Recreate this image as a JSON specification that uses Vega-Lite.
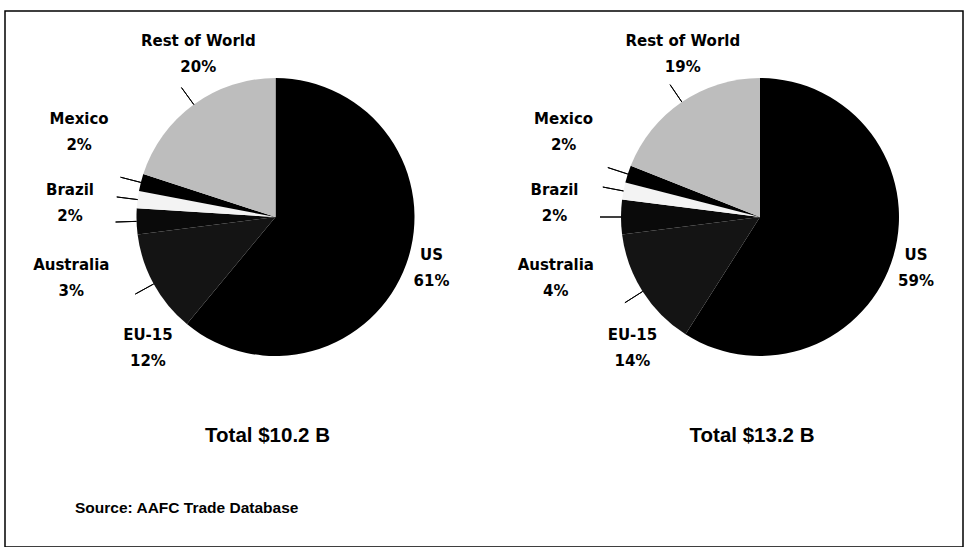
{
  "$schema": "https://vega.github.io/schema/vega-lite/v6.json",
  "width": 958,
  "height": 536,
  "autosize": {"type": "none"},
  "padding": {"left": 5, "top": 11, "right": 5, "bottom": 0},
  "background": "white",
  "title": {
    "text": "Source: AAFC Trade Database",
    "orient": "bottom",
    "anchor": "start",
    "frame": "group",
    "offset": -46,
    "dx": 70,
    "font": "Liberation Sans",
    "fontSize": 15.5,
    "fontWeight": "bold",
    "color": "black"
  },
  "data": {
    "values": [
      {"total": "Total $10.2 B", "region": "US", "share": 0.61, "order": 1},
      {"total": "Total $10.2 B", "region": "EU-15", "share": 0.12, "order": 2},
      {"total": "Total $10.2 B", "region": "Australia", "share": 0.03, "order": 3},
      {"total": "Total $10.2 B", "region": "Brazil", "share": 0.02, "order": 4},
      {"total": "Total $10.2 B", "region": "Mexico", "share": 0.02, "order": 5},
      {"total": "Total $10.2 B", "region": "Rest of World", "share": 0.20, "order": 6},
      {"total": "Total $13.2 B", "region": "US", "share": 0.59, "order": 1},
      {"total": "Total $13.2 B", "region": "EU-15", "share": 0.14, "order": 2},
      {"total": "Total $13.2 B", "region": "Australia", "share": 0.04, "order": 3},
      {"total": "Total $13.2 B", "region": "Brazil", "share": 0.02, "order": 4},
      {"total": "Total $13.2 B", "region": "Mexico", "share": 0.02, "order": 5},
      {"total": "Total $13.2 B", "region": "Rest of World", "share": 0.19, "order": 6}
    ]
  },
  "transform": [
    {"window": [{"op": "sum", "field": "share", "as": "cum"}], "groupby": ["total"], "sort": [{"field": "order"}]},
    {"calculate": "datum.cum - datum.share", "as": "start"},
    {"calculate": "datum.cum - datum.share / 2", "as": "mid"}
  ],
  "layer": [
    {
      "mark": {"type": "arc", "outerRadius": 139, "yOffset": -62},
      "encoding": {
        "x": {"field": "total", "type": "nominal", "scale": {"type": "point", "domain": ["Total $10.2 B", "Total $13.2 B"], "range": [270.5, 755], "padding": 0}, "axis": null},
        "theta": {"field": "start", "type": "quantitative", "scale": {"domain": [0, 1], "range": [0, 6.283185]}},
        "theta2": {"field": "cum"},
        "color": {
          "field": "region",
          "type": "nominal",
          "scale": {
            "domain": ["US", "EU-15", "Australia", "Brazil", "Mexico", "Rest of World"],
            "range": ["#000000", "#141414", "#0a0a0a", "#f3f3f3", "#000000", "#bdbdbd"]
          },
          "legend": null
        }
      }
    },
    {
      "transform": [{"filter": "datum.order != 1"}],
      "mark": {"type": "arc", "outerRadius": 160, "innerRadius": 139, "filled": false, "stroke": "black", "strokeWidth": 1, "yOffset": -62},
      "encoding": {
        "x": {"field": "total", "type": "nominal"},
        "theta": {"field": "mid", "type": "quantitative", "scale": {"domain": [0, 1], "range": [0, 6.283185]}},
        "theta2": {"field": "mid"}
      }
    },
    {
      "mark": {"type": "text", "font": "DejaVu Sans", "fontWeight": "bold", "fontSize": 15, "color": "black", "dy": -75, "baseline": "middle", "align": "center"},
      "encoding": {
        "x": {"field": "total", "type": "nominal"},
        "theta": {"field": "order", "type": "quantitative", "scale": {"type": "linear", "domain": [1, 2, 3, 4, 5, 6], "range": [1.885, 3.913, 4.424, 4.780, 5.121, 5.840]}},
        "radius": {"field": "order", "type": "quantitative", "scale": {"type": "linear", "zero": false, "domain": [1, 2, 3, 4, 5, 6], "range": [164, 183, 213, 206, 214, 180]}},
        "text": {"field": "region", "type": "nominal"}
      }
    },
    {
      "mark": {"type": "text", "font": "DejaVu Sans", "fontWeight": "bold", "fontSize": 15, "color": "black", "dy": -49, "baseline": "middle", "align": "center"},
      "encoding": {
        "x": {"field": "total", "type": "nominal"},
        "theta": {"field": "order", "type": "quantitative", "scale": {"type": "linear", "domain": [1, 2, 3, 4, 5, 6], "range": [1.885, 3.913, 4.424, 4.780, 5.121, 5.840]}},
        "radius": {"field": "order", "type": "quantitative", "scale": {"type": "linear", "zero": false, "domain": [1, 2, 3, 4, 5, 6], "range": [164, 183, 213, 206, 214, 180]}},
        "text": {"field": "share", "type": "quantitative", "format": ".0%"}
      }
    },
    {
      "transform": [{"filter": "datum.order == 1"}],
      "mark": {"type": "text", "font": "Liberation Sans", "fontWeight": "bold", "fontSize": 20.5, "color": "black", "dy": 157, "dx": -8, "baseline": "middle", "align": "center"},
      "encoding": {
        "x": {"field": "total", "type": "nominal"},
        "text": {"field": "total", "type": "nominal"}
      }
    }
  ],
  "resolve": {"scale": {"theta": "independent", "radius": "independent"}},
  "config": {"view": {"stroke": "black", "strokeWidth": 1.5}}
}
